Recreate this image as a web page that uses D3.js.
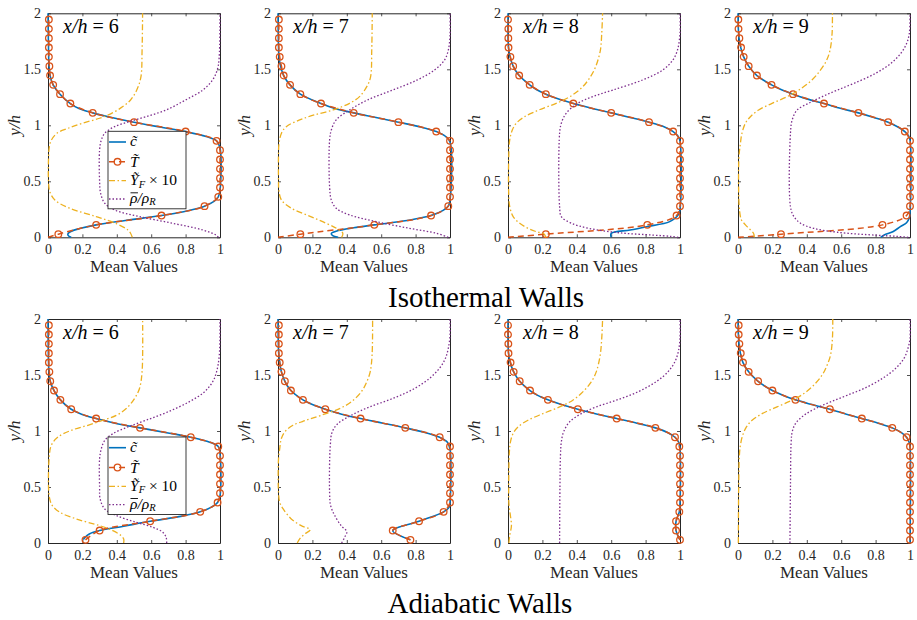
<!DOCTYPE html>
<html>
<head>
<meta charset="utf-8">
<script src="https://cdn.jsdelivr.net/npm/d3@7"></script>
<style>
  html, body { margin: 0; padding: 0; background: #fff; }
  svg { display: block; }
</style>
</head>
<body>
<svg id="fig" width="917" height="620" font-family="'Liberation Serif', 'Times New Roman', serif"></svg>
<script>
// Wall-normal height y/h of the sampled temperature markers
const markerY = [0.028, 0.111, 0.194, 0.278, 0.361, 0.444, 0.528, 0.611, 0.694, 0.778, 0.861, 0.944,
                 1.028, 1.111, 1.194, 1.278, 1.361, 1.444, 1.528, 1.611, 1.694, 1.778, 1.861, 1.944];

const xTicks = [0, 0.2, 0.4, 0.6, 0.8, 1];
const yTicks = [0, 0.5, 1, 1.5, 2];
const stations = ["6", "7", "8", "9"];
const rowTitles = ["Isothermal Walls", "Adiabatic Walls"];

// ---------- Isothermal walls: profiles as [y/h, value] ----------
const cIso6 = [[0,0.135],[0.012,0.12],[0.028,0.115],[0.05,0.13],[0.08,0.19],[0.111,0.28],[0.15,0.45],[0.194,0.66],[0.24,0.82],[0.278,0.91],[0.32,0.965],[0.361,0.99],[0.42,1.0],[0.8,1.0],[0.861,0.98],[0.9,0.92],[0.944,0.8],[0.985,0.65],[1.028,0.5],[1.07,0.37],[1.111,0.26],[1.15,0.18],[1.194,0.13],[1.278,0.07],[1.361,0.03],[1.444,0.012],[1.528,0.006],[1.6,0.004],[2,0.0]];
const tIso6 = [0.06,0.28,0.66,0.91,0.99,1.0,1.0,1.0,1.0,1.0,0.98,0.80,0.50,0.26,0.13,0.07,0.03,0.012,0.008,0.005,0.005,0.005,0.005,0.005];
const yfIso6 = [[0,0.49],[0.036,0.48],[0.065,0.465],[0.12,0.40],[0.185,0.28],[0.26,0.125],[0.333,0.04],[0.41,0.01],[0.5,0.003],[0.7,0.003],[0.81,0.008],[0.869,0.02],[0.929,0.052],[0.973,0.116],[1.018,0.2],[1.063,0.3],[1.107,0.37],[1.167,0.435],[1.226,0.48],[1.315,0.516],[1.43,0.54],[1.67,0.547],[2,0.55]];
const rhoIso6 = [[0,0.99],[0.02,0.977],[0.065,0.9],[0.125,0.725],[0.185,0.532],[0.244,0.387],[0.304,0.33],[0.393,0.306],[0.5,0.3],[0.78,0.3],[0.869,0.31],[0.929,0.33],[0.988,0.387],[1.033,0.474],[1.077,0.57],[1.137,0.687],[1.226,0.8],[1.315,0.9],[1.405,0.957],[1.5,0.985],[1.6,0.995],[2,1.0]];

const cIso7 = [[0,0.35],[0.015,0.318],[0.035,0.31],[0.06,0.35],[0.085,0.44],[0.111,0.56],[0.15,0.75],[0.194,0.89],[0.24,0.96],[0.278,0.99],[0.33,1.0],[0.85,1.0],[0.9,0.975],[0.944,0.92],[0.985,0.83],[1.028,0.70],[1.07,0.57],[1.111,0.44],[1.15,0.33],[1.194,0.25],[1.278,0.13],[1.361,0.07],[1.444,0.033],[1.528,0.015],[1.611,0.006],[1.7,0.003],[2,0.0]];
const tIso7 = [0.13,0.56,0.89,0.99,1.0,1.0,1.0,1.0,1.0,1.0,1.0,0.92,0.70,0.44,0.25,0.13,0.07,0.033,0.02,0.01,0.005,0.005,0.005,0.005];
const yfIso7 = [[0,0.37],[0.036,0.377],[0.08,0.34],[0.125,0.28],[0.185,0.19],[0.26,0.077],[0.333,0.02],[0.42,0.005],[0.5,0.003],[0.75,0.003],[0.839,0.006],[0.929,0.02],[0.988,0.048],[1.048,0.126],[1.092,0.21],[1.137,0.32],[1.196,0.416],[1.256,0.474],[1.345,0.516],[1.43,0.538],[1.67,0.545],[2,0.548]];
const rhoIso7 = [[0,0.99],[0.036,0.92],[0.08,0.764],[0.14,0.57],[0.2,0.416],[0.26,0.338],[0.333,0.31],[0.45,0.3],[0.869,0.3],[0.958,0.31],[1.048,0.338],[1.137,0.416],[1.226,0.52],[1.315,0.667],[1.405,0.81],[1.494,0.91],[1.58,0.967],[1.67,0.99],[1.8,1.0],[2,1.0]];

const cIso8 = [[0,0.6],[0.035,0.6],[0.065,0.71],[0.095,0.806],[0.14,0.94],[0.2,0.99],[0.25,1.0],[0.86,1.0],[0.9,0.99],[0.944,0.96],[0.985,0.91],[1.028,0.82],[1.07,0.71],[1.111,0.60],[1.15,0.49],[1.194,0.38],[1.236,0.29],[1.278,0.22],[1.32,0.165],[1.361,0.126],[1.444,0.065],[1.528,0.03],[1.611,0.012],[1.694,0.003],[1.8,0.0],[2,0.0]];
const tIso8 = [0.22,0.81,0.98,1.0,1.0,1.0,1.0,1.0,1.0,1.0,1.0,0.96,0.82,0.60,0.38,0.22,0.126,0.065,0.03,0.014,0.003,0.002,0.002,0.0];
const yfIso8 = [[0,0.22],[0.03,0.21],[0.05,0.165],[0.08,0.116],[0.125,0.068],[0.185,0.03],[0.274,0.01],[0.4,0.004],[0.7,0.004],[0.869,0.01],[0.958,0.025],[1.018,0.048],[1.077,0.097],[1.137,0.18],[1.196,0.28],[1.256,0.36],[1.345,0.435],[1.435,0.48],[1.524,0.51],[1.67,0.537],[1.82,0.545],[2,0.55]];
const rhoIso8 = [[0,0.99],[0.008,0.95],[0.02,0.84],[0.04,0.65],[0.08,0.47],[0.125,0.37],[0.185,0.31],[0.274,0.3],[0.929,0.3],[1.018,0.31],[1.107,0.338],[1.196,0.406],[1.256,0.493],[1.315,0.61],[1.405,0.783],[1.494,0.9],[1.58,0.957],[1.67,0.985],[1.82,1.0],[2,1.0]];

const cIso9 = [[0,0.83],[0.02,0.85],[0.05,0.9],[0.095,0.944],[0.13,0.98],[0.17,0.995],[0.22,1.0],[0.87,1.0],[0.91,0.99],[0.944,0.97],[0.985,0.93],[1.028,0.873],[1.07,0.79],[1.111,0.70],[1.15,0.60],[1.194,0.50],[1.236,0.40],[1.278,0.32],[1.32,0.25],[1.361,0.195],[1.444,0.11],[1.528,0.062],[1.611,0.033],[1.694,0.016],[1.778,0.006],[1.861,0.002],[2,0.0]];
const tIso9 = [0.25,0.84,0.98,1.0,1.0,1.0,1.0,1.0,1.0,1.0,1.0,0.97,0.873,0.70,0.50,0.32,0.195,0.11,0.062,0.033,0.018,0.008,0.003,0.002];
const yfIso9 = [[0,0.095],[0.036,0.09],[0.095,0.053],[0.155,0.02],[0.185,0.014],[0.3,0.006],[0.7,0.005],[0.839,0.014],[0.929,0.023],[1.018,0.043],[1.077,0.072],[1.137,0.12],[1.196,0.198],[1.256,0.286],[1.315,0.354],[1.405,0.43],[1.494,0.48],[1.58,0.515],[1.67,0.535],[1.82,0.547],[2,0.549]];
const rhoIso9 = [[0,0.99],[0.008,0.93],[0.018,0.81],[0.045,0.578],[0.08,0.44],[0.125,0.364],[0.185,0.325],[0.274,0.305],[0.929,0.305],[1.048,0.315],[1.137,0.344],[1.196,0.41],[1.256,0.49],[1.315,0.578],[1.375,0.675],[1.464,0.8],[1.554,0.89],[1.643,0.947],[1.73,0.98],[1.82,0.996],[2,1.0]];

// Isothermal wall temperature at y/h = 0
const tWall = 0;

// ---------- Adiabatic walls ----------
const cAdi6 = [[0.03,0.205],[0.05,0.215],[0.08,0.24],[0.111,0.30],[0.15,0.44],[0.194,0.594],[0.24,0.78],[0.278,0.885],[0.32,0.95],[0.361,0.986],[0.42,1.0],[0.8,1.0],[0.861,0.99],[0.9,0.94],[0.944,0.83],[0.985,0.69],[1.028,0.535],[1.07,0.39],[1.111,0.28],[1.15,0.195],[1.194,0.135],[1.278,0.072],[1.361,0.035],[1.444,0.013],[1.528,0.006],[1.611,0.003],[2,0.0]];
const tAdi6 = [0.218,0.30,0.594,0.885,0.986,1.0,1.0,1.0,1.0,1.0,0.99,0.83,0.535,0.28,0.135,0.072,0.035,0.013,0.008,0.005,0.005,0.005,0.005,0.005];
const yfAdi6 = [[0,0.44],[0.036,0.44],[0.066,0.425],[0.11,0.377],[0.155,0.3],[0.215,0.164],[0.275,0.068],[0.334,0.025],[0.394,0.01],[0.5,0.003],[0.78,0.008],[0.872,0.019],[0.946,0.058],[1.006,0.135],[1.051,0.232],[1.096,0.32],[1.14,0.397],[1.2,0.455],[1.29,0.503],[1.38,0.532],[1.53,0.547],[2,0.55]];
const rhoAdi6 = [[0,0.69],[0.05,0.687],[0.096,0.667],[0.14,0.61],[0.185,0.513],[0.245,0.397],[0.304,0.33],[0.394,0.303],[0.5,0.3],[0.752,0.3],[0.842,0.31],[0.916,0.33],[0.976,0.377],[1.036,0.464],[1.096,0.57],[1.17,0.696],[1.26,0.82],[1.349,0.909],[1.439,0.957],[1.528,0.98],[1.678,0.996],[2,1.0]];

const cAdi7 = [[0.028,0.77],[0.111,0.667],[0.194,0.82],[0.278,0.963],[0.32,0.995],[0.361,1.0],[0.84,1.0],[0.9,0.985],[0.944,0.94],[0.985,0.86],[1.028,0.74],[1.07,0.61],[1.111,0.48],[1.15,0.37],[1.194,0.275],[1.236,0.2],[1.278,0.145],[1.361,0.075],[1.444,0.04],[1.528,0.02],[1.611,0.01],[1.694,0.004],[2,0.0]];
const tAdi7 = [0.77,0.667,0.82,0.963,1.0,1.0,1.0,1.0,1.0,1.0,1.0,0.94,0.74,0.48,0.275,0.145,0.075,0.04,0.02,0.01,0.005,0.005,0.005,0.005];
const yfAdi7 = [[0,0.112],[0.036,0.126],[0.08,0.155],[0.119,0.187],[0.155,0.135],[0.215,0.077],[0.304,0.03],[0.364,0.01],[0.45,0.003],[0.75,0.003],[0.842,0.01],[0.931,0.019],[0.991,0.039],[1.051,0.087],[1.096,0.164],[1.14,0.25],[1.2,0.358],[1.26,0.426],[1.349,0.484],[1.439,0.516],[1.528,0.536],[1.678,0.547],[2,0.55]];
const rhoAdi7 = [[0,0.37],[0.05,0.387],[0.1,0.4],[0.155,0.367],[0.245,0.33],[0.334,0.306],[0.45,0.3],[0.872,0.304],[0.991,0.315],[1.066,0.348],[1.14,0.426],[1.215,0.532],[1.29,0.667],[1.379,0.793],[1.469,0.88],[1.558,0.938],[1.648,0.973],[1.737,0.99],[1.85,1.0],[2,1.0]];

const cAdi8 = [[0.028,1.0],[0.111,0.977],[0.194,0.977],[0.278,0.996],[0.35,1.0],[0.84,1.0],[0.9,0.993],[0.944,0.971],[0.985,0.93],[1.028,0.857],[1.07,0.75],[1.111,0.632],[1.15,0.52],[1.194,0.406],[1.236,0.31],[1.278,0.232],[1.32,0.17],[1.361,0.128],[1.444,0.068],[1.528,0.033],[1.611,0.013],[1.694,0.003],[2,0.0]];
const tAdi8 = [1.0,0.977,0.977,0.996,1.0,1.0,1.0,1.0,1.0,1.0,0.996,0.971,0.857,0.632,0.406,0.232,0.128,0.068,0.033,0.015,0.003,0.002,0.0,0.0];
const yfAdi8 = [[0,0.005],[0.066,0.01],[0.155,0.02],[0.245,0.014],[0.334,0.006],[0.5,0.004],[0.812,0.008],[0.901,0.014],[0.976,0.029],[1.036,0.058],[1.096,0.116],[1.155,0.203],[1.215,0.3],[1.275,0.377],[1.349,0.435],[1.439,0.484],[1.528,0.513],[1.678,0.536],[1.827,0.545],[2,0.55]];
const rhoAdi8 = [[0,0.30],[0.5,0.302],[0.78,0.305],[0.901,0.31],[0.991,0.323],[1.081,0.358],[1.155,0.426],[1.215,0.513],[1.275,0.63],[1.349,0.755],[1.439,0.86],[1.528,0.93],[1.618,0.97],[1.707,0.99],[1.827,1.0],[2,1.0]];

const cAdi9 = [[0,1.0],[0.86,1.0],[0.9,0.995],[0.944,0.98],[0.985,0.95],[1.028,0.897],[1.07,0.815],[1.111,0.72],[1.15,0.63],[1.194,0.534],[1.236,0.43],[1.278,0.334],[1.32,0.26],[1.361,0.2],[1.444,0.117],[1.528,0.062],[1.611,0.029],[1.694,0.014],[1.778,0.006],[1.861,0.002],[2,0.0]];
const tAdi9 = [1.0,1.0,1.0,1.0,1.0,1.0,1.0,1.0,1.0,1.0,1.0,0.98,0.897,0.72,0.534,0.334,0.2,0.117,0.062,0.029,0.016,0.008,0.004,0.004];
const yfAdi9 = [[0,0.002],[0.5,0.004],[0.782,0.008],[0.872,0.014],[0.961,0.027],[1.036,0.049],[1.096,0.082],[1.155,0.14],[1.215,0.227],[1.275,0.315],[1.334,0.383],[1.409,0.44],[1.499,0.489],[1.588,0.518],[1.678,0.538],[1.827,0.549],[2,0.551]];
const rhoAdi9 = [[0,0.302],[0.5,0.305],[0.901,0.309],[0.991,0.315],[1.066,0.334],[1.14,0.383],[1.2,0.45],[1.26,0.538],[1.319,0.635],[1.379,0.732],[1.469,0.839],[1.558,0.916],[1.648,0.965],[1.737,0.988],[1.827,1.0],[2,1.0]];

// ---------- layout & style ----------
const SERIF = "'Liberation Serif', 'Times New Roman', serif";
const COL = { c: "#0072BD", T: "#D95319", yf: "#EDB120", rho: "#7E2F8E", axis: "#262626" };
const panelLeft = [48, 278, 508, 738];
const panelTop = [13.3, 319];
const PW = 172, PH = 224;

const panels = [
  { row: 0, col: 0, c: cIso6, t: tIso6, yf: yfIso6, rho: rhoIso6, wall: true },
  { row: 0, col: 1, c: cIso7, t: tIso7, yf: yfIso7, rho: rhoIso7, wall: true },
  { row: 0, col: 2, c: cIso8, t: tIso8, yf: yfIso8, rho: rhoIso8, wall: true },
  { row: 0, col: 3, c: cIso9, t: tIso9, yf: yfIso9, rho: rhoIso9, wall: true },
  { row: 1, col: 0, c: cAdi6, t: tAdi6, yf: yfAdi6, rho: rhoAdi6, wall: false },
  { row: 1, col: 1, c: cAdi7, t: tAdi7, yf: yfAdi7, rho: rhoAdi7, wall: false },
  { row: 1, col: 2, c: cAdi8, t: tAdi8, yf: yfAdi8, rho: rhoAdi8, wall: false },
  { row: 1, col: 3, c: cAdi9, t: tAdi9, yf: yfAdi9, rho: rhoAdi9, wall: false }
];

const svg = d3.select("#fig");
const x = d3.scaleLinear().domain([0, 1]).range([0, PW]);
const y = d3.scaleLinear().domain([0, 2]).range([PH, 0]);
const line = d3.line().x(d => x(d[1])).y(d => y(d[0])).curve(d3.curveCatmullRom.alpha(0.5));

panels.forEach(p => {
  const g = svg.append("g").attr("transform", `translate(${panelLeft[p.col]},${panelTop[p.row]})`);

  // axes with inward ticks on all four sides
  const ax = g.append("g");
  ax.append("g").attr("transform", `translate(0,${PH})`)
    .call(d3.axisBottom(x).tickValues(xTicks).tickFormat(d => String(d)).tickSizeInner(-3).tickSizeOuter(0).tickPadding(7));
  ax.append("g")
    .call(d3.axisTop(x).tickValues(xTicks).tickFormat("").tickSizeInner(-3).tickSizeOuter(0));
  ax.append("g")
    .call(d3.axisLeft(y).tickValues(yTicks).tickFormat(d => String(d)).tickSizeInner(-3).tickSizeOuter(0).tickPadding(7));
  ax.append("g").attr("transform", `translate(${PW},0)`)
    .call(d3.axisRight(y).tickValues(yTicks).tickFormat("").tickSizeInner(-3).tickSizeOuter(0));
  ax.selectAll("g").attr("font-family", SERIF).attr("font-size", 14);
  ax.selectAll("path.domain").attr("stroke", COL.axis).attr("stroke-width", 1);
  ax.selectAll(".tick line").attr("stroke", COL.axis).attr("stroke-width", 0.8);
  ax.selectAll(".tick text").attr("fill", "#262626");

  // profiles
  g.append("path").datum(p.c).attr("d", line)
    .attr("fill", "none").attr("stroke", COL.c).attr("stroke-width", 1.6);

  const tPts = markerY.map((yy, i) => [yy, p.t[i]]);
  const tLine = p.wall ? [[0, tWall]].concat(tPts) : tPts;
  g.append("path").datum(tLine).attr("d", line)
    .attr("fill", "none").attr("stroke", COL.T).attr("stroke-width", 1.5).attr("stroke-dasharray", "6,4");
  g.selectAll("circle.tm").data(tPts).join("circle").attr("class", "tm")
    .attr("cx", d => x(d[1])).attr("cy", d => y(d[0])).attr("r", 3.3)
    .attr("fill", "none").attr("stroke", COL.T).attr("stroke-width", 1.3);

  g.append("path").datum(p.yf).attr("d", line)
    .attr("fill", "none").attr("stroke", COL.yf).attr("stroke-width", 1.3).attr("stroke-dasharray", "6,2.5,1.5,2.5");
  g.append("path").datum(p.rho).attr("d", line)
    .attr("fill", "none").attr("stroke", COL.rho).attr("stroke-width", 1.3).attr("stroke-dasharray", "1.5,2");

  // station label
  const st = g.append("text").attr("x", 15).attr("y", 19.5).attr("font-size", 20).attr("font-family", SERIF);
  st.append("tspan").attr("font-style", "italic").text("x/h");
  st.append("tspan").attr("dx", 5).text("=");
  st.append("tspan").attr("dx", 5).text(stations[p.col]);

  // axis titles
  g.append("text").attr("x", PW / 2).attr("y", PH + 35).attr("text-anchor", "middle")
    .attr("font-family", SERIF).attr("font-size", 17).attr("fill", "#262626").text("Mean Values");
  g.append("text").attr("transform", `translate(-28,${PH / 2}) rotate(-90)`)
    .attr("text-anchor", "middle").attr("font-size", 17).attr("font-style", "italic")
    .attr("font-family", SERIF).attr("fill", "#262626").text("y/h");

  // legend in the first station of each row
  if (p.col === 0) {
    const L = g.append("g").attr("transform", "translate(60,118)").attr("font-family", SERIF);
    L.append("rect").attr("width", 78).attr("height", 77.5)
      .attr("fill", "#fff").attr("stroke", COL.axis).attr("stroke-width", 0.9);
    const rows = [10.7, 30.5, 49.4, 67.7];
    const sx0 = 1, sx1 = 18;
    L.append("line").attr("x1", sx0).attr("x2", sx1).attr("y1", rows[0]).attr("y2", rows[0])
      .attr("stroke", COL.c).attr("stroke-width", 1.6);
    L.append("line").attr("x1", sx0).attr("x2", sx1).attr("y1", rows[1]).attr("y2", rows[1])
      .attr("stroke", COL.T).attr("stroke-width", 1.5).attr("stroke-dasharray", "6,4");
    L.append("circle").attr("cx", (sx0 + sx1) / 2).attr("cy", rows[1]).attr("r", 3.3)
      .attr("fill", "none").attr("stroke", COL.T).attr("stroke-width", 1.3);
    L.append("line").attr("x1", sx0).attr("x2", sx1).attr("y1", rows[2]).attr("y2", rows[2])
      .attr("stroke", COL.yf).attr("stroke-width", 1.3).attr("stroke-dasharray", "6,2.5,1.5,2.5");
    L.append("line").attr("x1", sx0).attr("x2", sx1).attr("y1", rows[3]).attr("y2", rows[3])
      .attr("stroke", COL.rho).attr("stroke-width", 1.3).attr("stroke-dasharray", "1.5,2");

    const tx = 22;
    L.append("text").attr("x", tx).attr("y", rows[0] + 4).attr("font-size", 15.5)
      .attr("font-style", "italic").text("c\u0303");
    L.append("text").attr("x", tx).attr("y", rows[1] + 5).attr("font-size", 15.5)
      .attr("font-style", "italic").text("T\u0303");
    const t3 = L.append("text").attr("x", tx).attr("y", rows[2] + 4.5).attr("font-size", 15.5);
    t3.append("tspan").attr("font-style", "italic").text("\u1EF8");
    t3.append("tspan").attr("font-style", "italic").attr("font-size", 10.5).attr("dy", 2.5).text("F");
    t3.append("tspan").attr("dy", -2.5).text(" \u00D7 10");
    const t4 = L.append("text").attr("x", tx).attr("y", rows[3] + 4).attr("font-size", 15.5);
    t4.append("tspan").attr("font-style", "italic").text("\u03C1/\u03C1");
    t4.append("tspan").attr("font-style", "italic").attr("font-size", 10.5).attr("dy", 2.5).text("R");
    // mean (overbar) over the first rho
    const ext = t4.node().getExtentOfChar(0);
    L.append("line").attr("x1", ext.x + 0.5).attr("x2", ext.x + ext.width + 0.5)
      .attr("y1", rows[3] - 6.2).attr("y2", rows[3] - 6.2).attr("stroke", "#000").attr("stroke-width", 0.9);
  }
});

// row titles
svg.append("text").attr("x", 486).attr("y", 306.5).attr("text-anchor", "middle")
  .attr("font-family", SERIF).attr("font-size", 29).text(rowTitles[0]);
svg.append("text").attr("x", 480).attr("y", 613).attr("text-anchor", "middle")
  .attr("font-family", SERIF).attr("font-size", 29).text(rowTitles[1]);
</script>
</body>
</html>
